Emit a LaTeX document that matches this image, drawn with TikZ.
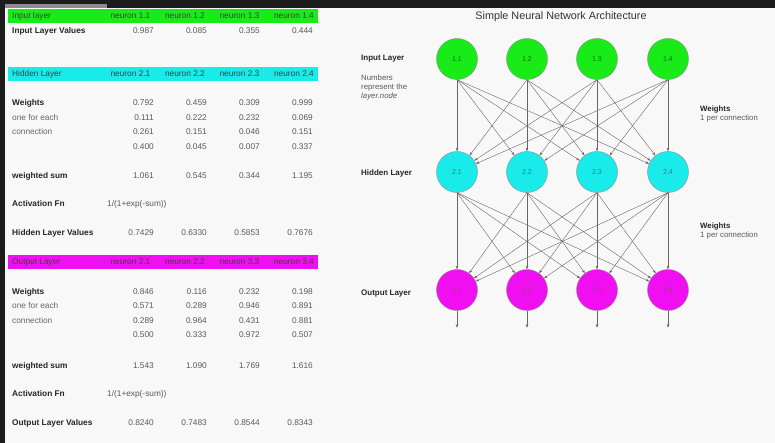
\documentclass[tikz,border=0pt]{standalone}
\usepackage{fontspec}
\setmainfont{Liberation Sans}
\usetikzlibrary{positioning,arrows.meta}

\definecolor{layerGreen}{RGB}{25,235,25}
\definecolor{layerCyan}{RGB}{25,235,235}
\definecolor{layerMagenta}{RGB}{240,15,240}
\definecolor{sheetBg}{RGB}{248,248,248}
\definecolor{frameDark}{RGB}{28,28,28}

\begin{document}
\begin{tikzpicture}[x=1pt, y=-1pt,
    txt/.style={inner sep=0pt, font=\fontsize{8.3}{9}\selectfont},
    rowLabel/.style={txt, anchor=base west, text=black!85, font=\fontsize{8.3}{9}\selectfont\bfseries},
    noteLabel/.style={txt, anchor=base west, text=black!60},
    val/.style={txt, anchor=base east, text=black!65},
    band/.style={minimum width=310pt, minimum height=14pt, inner sep=0pt},
    hdrText/.style={txt, text=black!75},
    neuron/.style={circle, minimum size=41pt, inner sep=0pt, draw=black!45, line width=0.4pt, font=\fontsize{7}{8}\selectfont},
    conn/.style={-{Stealth[length=3.5pt,width=2.6pt]}, draw=black!60, line width=0.4pt},
    diagLabel/.style={txt, anchor=base west, text=black!85, font=\fontsize{8}{9}\selectfont\bfseries},
    diagNote/.style={txt, anchor=north west, align=left, text=black!65, font=\fontsize{7.8}{9}\selectfont}
]
\useasboundingbox (0,0) rectangle (775,443);
\fill[frameDark] (0,0) rectangle (775,443);
\fill[sheetBg] (5,8) rectangle (775,443);
\fill[black!45] (5,4) rectangle (107,8);

% spreadsheet: input layer
\node[band, fill=layerGreen] (inBand) at (163,16) {};
\node[hdrText, anchor=base west] (inHdr) at (12,19) {Input layer};
\foreach \c in {1,...,4}
  \node[hdrText, anchor=base east] (inCol\c) at ({96+54.5*\c},19) {neuron 1.\c};
\node[rowLabel] (inValLbl) at (12,33.5) {Input Layer Values};
\foreach \v [count=\c] in {0.987,0.085,0.355,0.444}
  \node[val] (inVal\c) at ({101+53*\c},33.5) {\v};

% spreadsheet: hidden layer
\node[band, fill=layerCyan] (hidBand) at (163,74) {};
\node[hdrText, anchor=base west] (hidHdr) at (12,77) {Hidden Layer};
\foreach \c in {1,...,4}
  \node[hdrText, anchor=base east] (hidCol\c) at ({96+54.5*\c},77) {neuron 2.\c};
\node[rowLabel] (hidWLbl) at (12,106) {Weights};
\node[noteLabel] (hidWNote1) at (12,120.5) {one for each};
\node[noteLabel] (hidWNote2) at (12,135) {connection};
\foreach \row [count=\r] in {{0.792,0.459,0.309,0.999},{0.111,0.222,0.232,0.069},{0.261,0.151,0.046,0.151},{0.400,0.045,0.007,0.337}}
  \foreach \v [count=\c] in \row
    \node[val] (hidW\r\c) at ({101+53*\c},{91.5+14.5*\r}) {\v};
\node[rowLabel] (hidSumLbl) at (12,179) {weighted sum};
\foreach \v [count=\c] in {1.061,0.545,0.344,1.195}
  \node[val] (hidSum\c) at ({101+53*\c},179) {\v};
\node[rowLabel] (hidActLbl) at (12,207) {Activation Fn};
\node[val, anchor=base west] (hidAct) at (107,207) {1/(1+exp(-sum))};
\node[rowLabel] (hidValLbl) at (12,236) {Hidden Layer Values};
\foreach \v [count=\c] in {0.7429,0.6330,0.5853,0.7676}
  \node[val] (hidVal\c) at ({101+53*\c},236) {\v};

% spreadsheet: output layer
\node[band, fill=layerMagenta] (outBand) at (163,262) {};
\node[hdrText, anchor=base west] (outHdr) at (12,265) {Output Layer};
\foreach \n [count=\c] in {2.1,2.2,3.3,3.4}
  \node[hdrText, anchor=base east] (outCol\c) at ({96+54.5*\c},265) {neuron \n};
\node[rowLabel] (outWLbl) at (12,294) {Weights};
\node[noteLabel] (outWNote1) at (12,308.5) {one for each};
\node[noteLabel] (outWNote2) at (12,323) {connection};
\foreach \row [count=\r] in {{0.846,0.116,0.232,0.198},{0.571,0.289,0.946,0.891},{0.289,0.964,0.431,0.881},{0.500,0.333,0.972,0.507}}
  \foreach \v [count=\c] in \row
    \node[val] (outW\r\c) at ({101+53*\c},{279.5+14.5*\r}) {\v};
\node[rowLabel] (outSumLbl) at (12,368) {weighted sum};
\foreach \v [count=\c] in {1.543,1.090,1.769,1.616}
  \node[val] (outSum\c) at ({101+53*\c},368) {\v};
\node[rowLabel] (outActLbl) at (12,396.5) {Activation Fn};
\node[val, anchor=base west] (outAct) at (107,396.5) {1/(1+exp(-sum))};
\node[rowLabel] (outValLbl) at (12,425) {Output Layer Values};
\foreach \v [count=\c] in {0.8240,0.7483,0.8544,0.8343}
  \node[val] (outVal\c) at ({101+53*\c},425) {\v};

% network diagram
\node[txt, text=black!80, font=\fontsize{10.8}{12}\selectfont] (title) at (561,17) {Simple Neural Network Architecture};
\foreach \i/\x in {1/457,2/527,3/597,4/668} {
  \node[neuron, fill=layerGreen, text=black!55!green] (in\i) at (\x,59) {1.\i};
  \node[neuron, fill=layerCyan, text=black!55!cyan] (hid\i) at (\x,172) {2.\i};
  \node[neuron, fill=layerMagenta, text=black!45!magenta] (out\i) at (\x,290) {3.\i};
  \coordinate[below=17pt of out\i] (end\i);
}
\foreach \i in {1,...,4}
  \foreach \j in {1,...,4} {
    \draw[conn] (in\i.south) -- (hid\j);
    \draw[conn] (hid\i.south) -- (out\j);
  }
\foreach \i in {1,...,4}
  \draw[conn] (out\i.south) -- (end\i);

\node[diagLabel] (lblIn) at (361,60.5) {Input Layer};
\node[diagNote] (lblNum) at (361,74.5) {Numbers\\represent the\\\textit{layer.node}};
\node[diagLabel] (lblHid) at (361,175.5) {Hidden Layer};
\node[diagLabel] (lblOut) at (361,295) {Output Layer};
\node[diagNote] (wIn) at (700,106) {\textbf{\color{black!85}Weights}\\1 per connection};
\node[diagNote] (wOut) at (700,222.5) {\textbf{\color{black!85}Weights}\\1 per connection};
\end{tikzpicture}
\end{document}
